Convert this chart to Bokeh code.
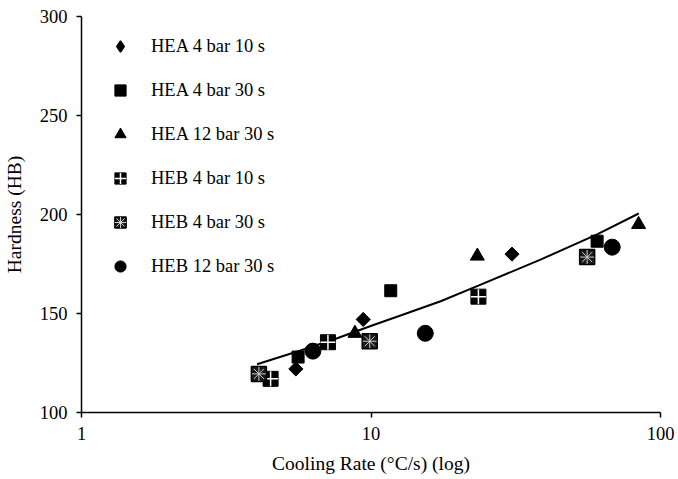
import numpy as np
from bokeh.plotting import figure
from bokeh.models import Range1d, FixedTicker, Legend, LegendItem
from bokeh.embed import file_html
from bokeh.resources import INLINE

# ---- data ----
hea4_10_x = [5.5, 9.4, 30.7]
hea4_10_y = [122, 147, 180]
hea4_30_x = [5.6, 11.7, 60.4]
hea4_30_y = [128, 161.5, 186.5]
hea12_30_x = [8.8, 23.3, 84.0]
hea12_30_y = [140, 179, 195]
heb4_10_x = [4.5, 7.1, 23.5]
heb4_10_y = [117, 135.5, 158.5]
heb4_30_x = [4.1, 9.9, 55.8]
heb4_30_y = [119.5, 136, 178.5]
heb12_30_x = [6.3, 15.4, 68.1]
heb12_30_y = [131, 140, 183.5]

# trendline
trend_x = [4.04, 5.71, 7.64, 10.2, 12.65, 17.4, 23.6, 38.5, 60.4, 84.1]
trend_y = [124.4, 131.3, 137.5, 144.2, 149.0, 156.2, 164.2, 177.2, 190.0, 200.5]

labels = ["HEA 4 bar 10 s", "HEA 4 bar 30 s", "HEA 12 bar 30 s",
          "HEB 4 bar 10 s", "HEB 4 bar 30 s", "HEB 12 bar 30 s"]
x_ticks = [1, 10, 100]
x_tick_labels = ["1", "10", "100"]
y_ticks = [100, 150, 200, 250, 300]

FONT = "Liberation Serif"

p = figure(width=678, height=479, x_axis_type="log",
           x_range=Range1d(1, 100), y_range=Range1d(100, 300),
           output_backend="svg", toolbar_location=None,
           min_border_left=81, min_border_right=18,
           min_border_top=16, min_border_bottom=67)
p.outline_line_color = None
p.xgrid.visible = False
p.ygrid.visible = False
p.background_fill_color = "white"
p.border_fill_color = "white"

p.line(trend_x, trend_y, line_color="black", line_width=2)

r1 = p.scatter(hea4_10_x, hea4_10_y, marker="square", size=10, angle=np.pi / 4,
               fill_color="black", line_color="black")
# legend proxy for the diamond (legend glyphs are drawn unrotated)
r1_leg = p.scatter([np.nan], [np.nan], marker="diamond", size=12,
                   fill_color="black", line_color="black", line_width=1.5)
r2 = p.scatter(hea4_30_x, hea4_30_y, marker="square", size=12,
               fill_color="black", line_color="black")
r3 = p.scatter(hea12_30_x, hea12_30_y, marker="triangle", size=14,
               fill_color="black", line_color="black")
r4a = p.scatter(heb4_10_x, heb4_10_y, marker="square", size=15,
                fill_color="black", line_color="black")
r4b = p.scatter(heb4_10_x, heb4_10_y, marker="cross", size=15,
                line_color="white", line_width=1.5)
r5a = p.scatter(heb4_30_x, heb4_30_y, marker="square", size=15,
                fill_color="#1a1a1a", line_color="black", line_width=1.5)
r5b = p.scatter(heb4_30_x, heb4_30_y, marker="asterisk", size=14,
                line_color="#cfcfcf", line_width=1)
r6 = p.scatter(heb12_30_x, heb12_30_y, marker="circle", size=16,
               fill_color="black", line_color="black")

legend = Legend(items=[
    LegendItem(label=labels[0], renderers=[r1_leg]),
    LegendItem(label=labels[1], renderers=[r2]),
    LegendItem(label=labels[2], renderers=[r3]),
    LegendItem(label=labels[3], renderers=[r4a, r4b]),
    LegendItem(label=labels[4], renderers=[r5a, r5b]),
    LegendItem(label=labels[5], renderers=[r6]),
], location=(25, 132), glyph_width=28, glyph_height=28, spacing=16,
    padding=0, margin=0, label_standoff=17, label_height=28,
    label_text_font=FONT, label_text_font_size="18.5px", label_text_color="black",
    border_line_color=None, background_fill_alpha=0)
p.add_layout(legend, "center")

for ax in (p.xaxis[0], p.yaxis[0]):
    ax.axis_line_color = "black"
    ax.axis_line_width = 1.5
    ax.major_tick_line_color = "black"
    ax.major_tick_line_width = 1.5
    ax.major_tick_out = 5
    ax.major_tick_in = 0
    ax.minor_tick_line_color = None
    ax.major_label_text_font = FONT
    ax.major_label_text_font_size = "18.5px"
    ax.major_label_text_color = "black"
    ax.axis_label_text_font = FONT
    ax.axis_label_text_font_size = "19.5px"
    ax.axis_label_text_font_style = "normal"
    ax.axis_label_text_color = "black"
    ax.major_label_standoff = 9

p.xaxis.ticker = FixedTicker(ticks=x_ticks)
p.xaxis.major_label_overrides = {t: l for t, l in zip(x_ticks, x_tick_labels)}
p.yaxis.ticker = FixedTicker(ticks=y_ticks)
p.xaxis.axis_label = "Cooling Rate (°C/s) (log)"
p.yaxis.axis_label = "Hardness (HB)"
p.xaxis.axis_label_standoff = 10
p.yaxis.axis_label_standoff = 12

open("out.html", "w").write(file_html(p, INLINE))
